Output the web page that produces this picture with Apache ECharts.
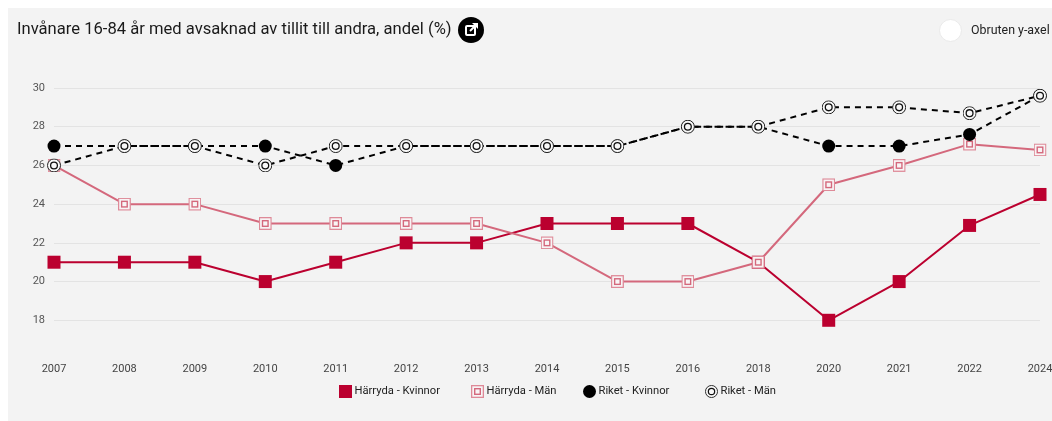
<!DOCTYPE html>
<html>
<head>
<meta charset="utf-8">
<title>Tillit till andra</title>
<script src="https://cdn.jsdelivr.net/npm/echarts@6/dist/echarts.min.js"></script>
<style>
  html, body { margin: 0; padding: 0; background: #fff; overflow: hidden; }
  #main { width: 1052px; height: 421px; }
</style>
</head>
<body>
<div id="main"></div>
<script>
  var years = ['2007','2008','2009','2010','2011','2012','2013','2014','2015','2016','2018','2020','2021','2022','2024'];
  var harrydaKvinnor = [21,21,21,20,21,22,22,23,23,23,21,18,20,22.9,24.5];
  var harrydaMan = [26,24,24,23,23,23,23,22,20,20,21,25,26,27.1,26.8];
  var riketKvinnor = [27,27,27,27,26,27,27,27,27,28,28,27,27,27.6,29.6];
  var riketMan = [26,27,27,26,27,27,27,27,27,28,28,29,29,28.7,29.6];

  // markörer som svg, används både i serierna och i legenden
  function svgIcon(body) {
    return 'image://data:image/svg+xml;utf8,' + encodeURIComponent(
      '<svg xmlns="http://www.w3.org/2000/svg" width="56" height="56" viewBox="0 0 14 14">' + body + '</svg>');
  }
  var squareOpen = svgIcon(
    '<rect x="0.7" y="0.7" width="12.6" height="12.6" fill="#f8f4f5" stroke="#de8a98" stroke-width="1.4"/>' +
    '<rect x="4" y="4" width="6" height="6" fill="#f8f4f5" stroke="#d4687c" stroke-width="1.5"/>');
  var circleOpen = svgIcon(
    '<circle cx="7" cy="7" r="6.5" fill="#f8f8f8" stroke="#222" stroke-width="1"/>' +
    '<circle cx="7" cy="7" r="3.4" fill="#f8f8f8" stroke="#111" stroke-width="1.3"/>');

  var legendText = { fontFamily: 'Roboto', fontSize: 11.2, color: '#222', padding: [0, 0, 0, -2.5] };
  function legendItem(name, icon, left) {
    return {
      left: left, top: 385, padding: 0,
      itemWidth: 13, itemHeight: 13,
      textStyle: legendText,
      data: [{ name: name, icon: icon }]
    };
  }

  var chart = echarts.init(document.getElementById('main'));
  chart.setOption({
    animation: false,
    textStyle: { fontFamily: 'Roboto' },
    title: {
      text: 'Invånare 16-84 år med avsaknad av tillit till andra, andel (%)',
      left: 12, top: 16,
      textStyle: { fontFamily: 'Roboto', fontSize: 16.6, fontWeight: 400, color: '#1a1a1a' }
    },
    grid: { left: 54, right: 12, top: 88, height: 271, outerBoundsMode: 'none' },
    xAxis: {
      type: 'category',
      data: years,
      boundaryGap: false,
      axisLine: { show: false },
      axisTick: { show: false },
      axisLabel: { color: '#444', fontSize: 11, margin: 5, showMinLabel: true, showMaxLabel: true, interval: 0 }
    },
    yAxis: {
      type: 'value',
      min: 16, max: 30, interval: 2,
      axisLine: { show: false },
      axisTick: { show: false },
      axisLabel: {
        color: '#555', fontSize: 11, margin: 9,
        formatter: function (v) { return v === 16 ? '' : v; }
      },
      splitLine: { showMinLine: false, lineStyle: { color: '#e3e3e3', width: 1 } }
    },
    // en legend per post, avstånden i originalet är ojämna
    legend: [
      legendItem('Härryda - Kvinnor', 'rect', 339),
      legendItem('Härryda - Män', squareOpen, 471),
      legendItem('Riket - Kvinnor', 'circle', 583),
      legendItem('Riket - Män', circleOpen, 705)
    ],
    series: [
      {
        name: 'Härryda - Kvinnor', type: 'line', data: harrydaKvinnor, z: 2,
        symbol: 'rect', symbolSize: 13, showAllSymbol: true,
        lineStyle: { color: '#bb002f', width: 2 },
        itemStyle: { color: '#bb002f' }
      },
      {
        name: 'Härryda - Män', type: 'line', data: harrydaMan, z: 3,
        symbol: squareOpen, symbolSize: 13, showAllSymbol: true,
        lineStyle: { color: '#d4687c', width: 2 },
        itemStyle: { color: '#d4687c' }
      },
      {
        name: 'Riket - Kvinnor', type: 'line', data: riketKvinnor, z: 4,
        symbol: 'circle', symbolSize: 13, showAllSymbol: true,
        lineStyle: { color: '#000', width: 2, type: [6, 5] },
        itemStyle: { color: '#000' }
      },
      {
        name: 'Riket - Män', type: 'line', data: riketMan, z: 5,
        symbol: circleOpen, symbolSize: 14, showAllSymbol: true,
        lineStyle: { color: '#000', width: 2, type: [6, 5] },
        itemStyle: { color: '#000' }
      }
    ],
    graphic: [
      { type: 'rect', z: -10, silent: true, shape: { x: 8, y: 8, width: 1044, height: 413 }, style: { fill: '#f3f3f3' } },
      // knapp bredvid rubriken
      { type: 'circle', shape: { cx: 471, cy: 30, r: 13 }, style: { fill: '#000' } },
      { type: 'rect', shape: { x: 466, y: 26, width: 9, height: 9, r: 1 }, style: { fill: 'none', stroke: '#fff', lineWidth: 2 }, z: 10 },
      { type: 'polygon', shape: { points: [[472, 23], [478, 23], [478, 29]] }, style: { fill: '#fff' }, z: 11 },
      { type: 'line', shape: { x1: 470, y1: 31, x2: 476, y2: 25 }, style: { stroke: '#fff', lineWidth: 2 }, z: 11 },
      // reglaget
      { type: 'circle', shape: { cx: 950.5, cy: 30.5, r: 11 }, style: { fill: '#fff', stroke: '#eaeaea', lineWidth: 1 } },
      { type: 'text', x: 971, y: 30.5, style: { text: 'Obruten y-axel', font: '12.4px Roboto', fill: '#222', verticalAlign: 'middle' } }
    ]
  });
</script>
</body>
</html>
